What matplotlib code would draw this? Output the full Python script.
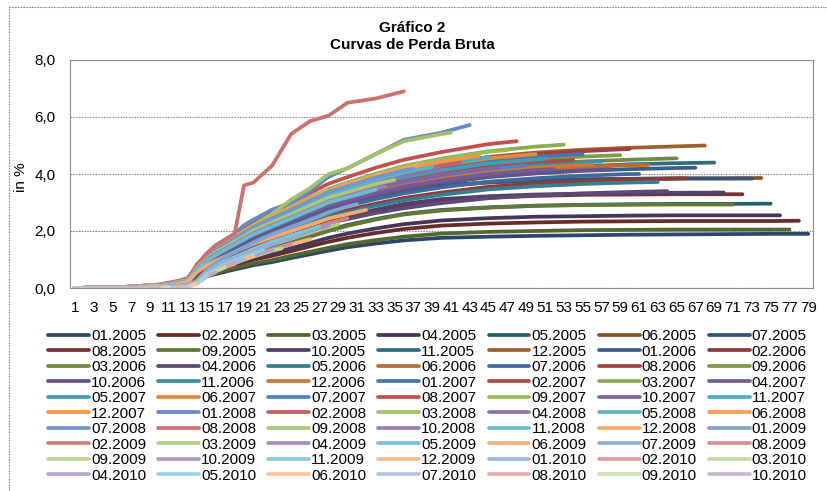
import numpy as np
import matplotlib
matplotlib.use('Agg')
import matplotlib.pyplot as plt
from matplotlib.lines import Line2D
from matplotlib.colors import to_rgb

plt.rcParams['font.family'] = ['Liberation Sans', 'DejaVu Sans']

# vintages 01.2005 .. 10.2010, observed up to 07.2011
years = [2005, 2006, 2007, 2008, 2009, 2010]
vintages = [f'{m:02d}.{y}' for y in years for m in range(1, 13)][:70]
last_obs = (2011, 7)

# months since origination at which each curve was sampled (plus its last month)
grid_months = [1, 6, 10, 12, 13, 14, 15, 16, 17, 18, 19, 20, 22, 24, 26, 28, 30,
               33, 36, 40, 45, 50, 55, 60, 65, 70, 75]

# cumulative gross loss in %, one list per vintage
loss_2005 = [
    [0, 0.01, 0.03, 0.06, 0.10, 0.29, 0.40, 0.49, 0.57, 0.65, 0.72, 0.80, 0.91, 1.05, 1.18, 1.31, 1.43, 1.56, 1.67, 1.76, 1.80, 1.83, 1.85, 1.87, 1.88, 1.89, 1.90, 1.90],
    [0, 0.01, 0.04, 0.08, 0.12, 0.35, 0.49, 0.61, 0.71, 0.80, 0.89, 0.99, 1.13, 1.29, 1.46, 1.62, 1.76, 1.93, 2.07, 2.19, 2.26, 2.30, 2.33, 2.34, 2.35, 2.35, 2.35, 2.36],
    [0, 0.01, 0.03, 0.07, 0.11, 0.31, 0.43, 0.53, 0.62, 0.70, 0.78, 0.86, 0.98, 1.13, 1.27, 1.41, 1.54, 1.68, 1.80, 1.91, 1.97, 2.00, 2.03, 2.04, 2.05, 2.05, 2.05, 2.05],
    [0, 0.01, 0.04, 0.09, 0.13, 0.38, 0.54, 0.66, 0.77, 0.87, 0.97, 1.07, 1.22, 1.40, 1.58, 1.76, 1.91, 2.09, 2.24, 2.37, 2.45, 2.50, 2.52, 2.54, 2.55, 2.55, 2.55, 2.55],
    [0, 0.01, 0.05, 0.10, 0.15, 0.44, 0.62, 0.77, 0.89, 1.00, 1.12, 1.24, 1.42, 1.62, 1.83, 2.04, 2.21, 2.42, 2.60, 2.74, 2.83, 2.89, 2.92, 2.94, 2.95, 2.95, 2.96],
    [0, 0.02, 0.06, 0.12, 0.18, 0.58, 0.81, 1.00, 1.16, 1.31, 1.46, 1.62, 1.85, 2.12, 2.39, 2.66, 2.89, 3.16, 3.39, 3.58, 3.70, 3.77, 3.81, 3.83, 3.85, 3.85, 3.86],
    [0, 0.02, 0.06, 0.12, 0.18, 0.60, 0.85, 1.05, 1.20, 1.36, 1.50, 1.66, 1.90, 2.15, 2.42, 2.68, 2.90, 3.18, 3.40, 3.60, 3.71, 3.78, 3.81, 3.83, 3.84, 3.84, 3.84],
    [0, 0.01, 0.05, 0.10, 0.15, 0.50, 0.69, 0.86, 0.99, 1.12, 1.25, 1.39, 1.58, 1.82, 2.05, 2.28, 2.48, 2.71, 2.90, 3.07, 3.17, 3.23, 3.27, 3.28, 3.29, 3.29, 3.29],
    [0, 0.01, 0.04, 0.09, 0.14, 0.42, 0.60, 0.75, 0.87, 0.98, 1.10, 1.22, 1.40, 1.60, 1.80, 2.00, 2.18, 2.40, 2.58, 2.72, 2.82, 2.88, 2.91, 2.92, 2.93, 2.93, 2.93],
    [0, 0.01, 0.05, 0.10, 0.15, 0.50, 0.70, 0.87, 1.00, 1.14, 1.27, 1.41, 1.61, 1.84, 2.08, 2.31, 2.51, 2.75, 2.95, 3.12, 3.22, 3.28, 3.31, 3.33, 3.34, 3.35],
    [0, 0.02, 0.07, 0.14, 0.20, 0.67, 0.93, 1.16, 1.34, 1.51, 1.69, 1.87, 2.14, 2.40, 2.67, 2.94, 3.12, 3.38, 3.60, 3.83, 4.05, 4.18, 4.27, 4.34, 4.38, 4.40],
    [0, 0.02, 0.08, 0.15, 0.22, 0.76, 1.06, 1.31, 1.52, 1.72, 1.92, 2.12, 2.42, 2.73, 3.03, 3.33, 3.54, 3.84, 4.09, 4.34, 4.60, 4.75, 4.85, 4.92, 4.97, 5.00],
]
loss_2006 = [
    [0, 0.02, 0.07, 0.14, 0.20, 0.64, 0.90, 1.11, 1.28, 1.46, 1.63, 1.80, 2.05, 2.31, 2.57, 2.82, 3.00, 3.25, 3.47, 3.68, 3.89, 4.02, 4.11, 4.17, 4.21, 4.22],
    [0, 0.02, 0.06, 0.13, 0.19, 0.59, 0.82, 1.01, 1.17, 1.33, 1.48, 1.64, 1.87, 2.11, 2.34, 2.57, 2.73, 2.96, 3.16, 3.35, 3.55, 3.67, 3.74, 3.80, 3.84, 3.85],
    [0, 0.02, 0.07, 0.14, 0.21, 0.69, 0.97, 1.20, 1.39, 1.57, 1.76, 1.94, 2.22, 2.49, 2.77, 3.05, 3.23, 3.51, 3.74, 3.97, 4.20, 4.34, 4.44, 4.50, 4.55],
    [0, 0.01, 0.05, 0.11, 0.16, 0.52, 0.73, 0.90, 1.04, 1.18, 1.31, 1.45, 1.66, 1.87, 2.08, 2.28, 2.42, 2.63, 2.80, 2.98, 3.15, 3.25, 3.32, 3.37, 3.40],
    [0, 0.02, 0.06, 0.12, 0.18, 0.57, 0.80, 0.99, 1.14, 1.29, 1.44, 1.60, 1.82, 2.05, 2.28, 2.51, 2.66, 2.89, 3.08, 3.27, 3.46, 3.57, 3.65, 3.70, 3.72],
    [0, 0.02, 0.07, 0.14, 0.20, 0.66, 0.93, 1.15, 1.33, 1.50, 1.68, 1.86, 2.12, 2.39, 2.65, 2.92, 3.09, 3.36, 3.58, 3.80, 4.02, 4.15, 4.24, 4.31, 4.32],
    [0, 0.02, 0.07, 0.13, 0.19, 0.62, 0.86, 1.07, 1.23, 1.39, 1.56, 1.72, 1.97, 2.21, 2.46, 2.71, 2.87, 3.12, 3.32, 3.53, 3.73, 3.85, 3.94, 4.00, 4.00],
    [0, 0.02, 0.08, 0.15, 0.22, 0.75, 1.05, 1.30, 1.50, 1.70, 1.90, 2.10, 2.40, 2.70, 3.00, 3.30, 3.50, 3.80, 4.05, 4.30, 4.55, 4.70, 4.80, 4.88],
    [0, 0.02, 0.07, 0.15, 0.22, 0.72, 1.01, 1.25, 1.44, 1.63, 1.82, 2.02, 2.30, 2.59, 2.88, 3.17, 3.36, 3.65, 3.89, 4.13, 4.37, 4.51, 4.61, 4.66],
    [0, 0.02, 0.06, 0.13, 0.19, 0.65, 0.90, 1.12, 1.29, 1.46, 1.63, 1.81, 2.06, 2.32, 2.58, 2.84, 3.01, 3.27, 3.48, 3.70, 3.91, 4.04, 4.13, 4.16],
    [0, 0.02, 0.07, 0.14, 0.21, 0.69, 0.97, 1.20, 1.38, 1.56, 1.75, 1.93, 2.21, 2.48, 2.76, 3.04, 3.22, 3.50, 3.73, 3.96, 4.19, 4.32, 4.42, 4.44],
    [0, 0.02, 0.07, 0.14, 0.21, 0.68, 0.95, 1.17, 1.35, 1.53, 1.71, 1.89, 2.16, 2.43, 2.70, 2.97, 3.15, 3.42, 3.65, 3.87, 4.10, 4.23, 4.32, 4.33],
]
loss_2007 = [
    [0, 0.02, 0.08, 0.16, 0.24, 0.74, 1.03, 1.27, 1.47, 1.67, 1.86, 2.06, 2.35, 2.65, 2.94, 3.23, 3.43, 3.72, 3.97, 4.21, 4.46, 4.61, 4.70],
    [0, 0.02, 0.07, 0.15, 0.22, 0.71, 0.99, 1.22, 1.41, 1.60, 1.79, 1.97, 2.26, 2.54, 2.82, 3.10, 3.29, 3.57, 3.81, 4.04, 4.28, 4.42, 4.49],
    [0, 0.02, 0.08, 0.16, 0.24, 0.79, 1.11, 1.37, 1.58, 1.80, 2.01, 2.22, 2.53, 2.85, 3.17, 3.48, 3.70, 4.01, 4.28, 4.54, 4.80, 4.96, 5.03],
    [0, 0.02, 0.07, 0.14, 0.20, 0.66, 0.92, 1.14, 1.32, 1.50, 1.67, 1.85, 2.11, 2.38, 2.64, 2.90, 3.08, 3.34, 3.56, 3.78, 4.00, 4.14, 4.17],
    [0, 0.02, 0.08, 0.15, 0.23, 0.72, 1.01, 1.25, 1.44, 1.63, 1.82, 2.02, 2.30, 2.59, 2.88, 3.17, 3.36, 3.65, 3.89, 4.13, 4.37, 4.51, 4.53],
    [0, 0.02, 0.08, 0.16, 0.24, 0.75, 1.05, 1.30, 1.50, 1.70, 1.90, 2.10, 2.40, 2.70, 3.00, 3.30, 3.50, 3.80, 4.05, 4.30, 4.55, 4.70],
    [0, 0.02, 0.07, 0.15, 0.22, 0.69, 0.97, 1.20, 1.38, 1.56, 1.75, 1.93, 2.21, 2.48, 2.76, 3.04, 3.22, 3.50, 3.73, 3.96, 4.19, 4.30],
    [0, 0.03, 0.09, 0.18, 0.26, 0.83, 1.17, 1.44, 1.67, 1.89, 2.11, 2.33, 2.66, 3.00, 3.33, 3.66, 3.89, 4.22, 4.50, 4.77, 5.05, 5.15],
    [0, 0.02, 0.08, 0.17, 0.25, 0.79, 1.10, 1.37, 1.58, 1.79, 2.00, 2.21, 2.52, 2.84, 3.15, 3.47, 3.68, 3.99, 4.25, 4.52, 4.78, 4.84],
    [0, 0.02, 0.07, 0.15, 0.22, 0.69, 0.97, 1.20, 1.38, 1.56, 1.75, 1.93, 2.21, 2.48, 2.76, 3.04, 3.22, 3.50, 3.73, 3.96, 4.19, 4.21],
    [0, 0.02, 0.08, 0.16, 0.24, 0.76, 1.06, 1.31, 1.52, 1.72, 1.92, 2.12, 2.42, 2.73, 3.03, 3.33, 3.54, 3.84, 4.09, 4.34, 4.60],
    [0, 0.03, 0.09, 0.17, 0.25, 0.77, 1.08, 1.34, 1.55, 1.75, 1.96, 2.16, 2.47, 2.78, 3.09, 3.40, 3.61, 3.91, 4.17, 4.43, 4.64],
]
loss_2008 = [
    [0, 0.03, 0.12, 0.24, 0.32, 0.80, 1.20, 1.50, 1.70, 1.90, 2.20, 2.40, 2.75, 3.00, 3.40, 3.90, 4.20, 4.70, 5.20, 5.45, 5.72],
    [0, 0.03, 0.10, 0.20, 0.28, 0.75, 1.05, 1.30, 1.50, 1.70, 1.90, 2.10, 2.40, 2.70, 3.00, 3.30, 3.50, 3.80, 4.05, 4.30, 4.40],
    [0, 0.03, 0.11, 0.22, 0.30, 0.70, 1.10, 1.40, 1.60, 1.80, 2.00, 2.20, 2.60, 3.10, 3.50, 4.00, 4.20, 4.70, 5.15, 5.40, 5.45],
    [0, 0.03, 0.10, 0.20, 0.28, 0.74, 1.03, 1.27, 1.47, 1.67, 1.86, 2.06, 2.35, 2.65, 2.94, 3.23, 3.43, 3.72, 3.97, 4.21],
    [0, 0.03, 0.10, 0.21, 0.29, 0.75, 1.05, 1.30, 1.50, 1.70, 1.90, 2.10, 2.40, 2.70, 3.00, 3.30, 3.50, 3.80, 4.05, 4.25],
    [0, 0.03, 0.11, 0.22, 0.30, 0.78, 1.09, 1.35, 1.56, 1.77, 1.98, 2.18, 2.50, 2.81, 3.12, 3.43, 3.64, 3.95, 4.21, 4.34],
    [0, 0.03, 0.11, 0.22, 0.30, 0.77, 1.07, 1.33, 1.53, 1.73, 1.94, 2.14, 2.45, 2.75, 3.06, 3.37, 3.57, 3.88, 4.13, 4.18],
    [0, 0.03, 0.12, 0.25, 0.35, 0.80, 1.20, 1.50, 1.70, 1.90, 3.60, 3.70, 4.30, 5.40, 5.85, 6.05, 6.50, 6.65, 6.90],
    [0, 0.03, 0.10, 0.20, 0.28, 0.72, 1.01, 1.25, 1.44, 1.63, 1.82, 2.02, 2.30, 2.59, 2.88, 3.17, 3.36, 3.65, 3.79],
    [0, 0.02, 0.09, 0.18, 0.26, 0.69, 0.97, 1.20, 1.38, 1.56, 1.75, 1.93, 2.21, 2.48, 2.76, 3.04, 3.22, 3.50, 3.56],
    [0, 0.02, 0.08, 0.17, 0.25, 0.66, 0.93, 1.15, 1.34, 1.52, 1.70, 1.88, 2.16, 2.44, 2.72, 3.00, 3.18, 3.45],
    [0, 0.02, 0.07, 0.14, 0.20, 0.56, 0.78, 0.96, 1.11, 1.26, 1.41, 1.55, 1.78, 2.00, 2.22, 2.44, 2.59, 2.74],
]
loss_2009 = [
    [0, 0.01, 0.04, 0.08, 0.12, 0.25, 0.63, 0.88, 1.09, 1.26, 1.43, 1.60, 1.89, 2.14, 2.39, 2.65, 2.86, 2.94],
    [0, 0.01, 0.03, 0.06, 0.10, 0.22, 0.54, 0.76, 0.94, 1.08, 1.22, 1.37, 1.62, 1.84, 2.05, 2.27, 2.45],
    [0, 0, 0.03, 0.05, 0.08, 0.20, 0.51, 0.71, 0.88, 1.02, 1.16, 1.29, 1.53, 1.73, 1.94, 2.14, 2.23],
    [0, 0, 0.03, 0.05, 0.08, 0.21, 0.53, 0.74, 0.91, 1.05, 1.19, 1.33, 1.58, 1.79, 2.00, 2.20],
    [0, 0, 0.03, 0.05, 0.09, 0.22, 0.54, 0.76, 0.94, 1.08, 1.22, 1.37, 1.62, 1.84, 2.05, 2.16],
    [0, 0, 0.02, 0.04, 0.07, 0.18, 0.45, 0.63, 0.78, 0.90, 1.02, 1.14, 1.35, 1.53, 1.71],
    [0, 0, 0.02, 0.04, 0.07, 0.20, 0.51, 0.71, 0.88, 1.02, 1.16, 1.29, 1.53, 1.73, 1.84],
    [0, 0, 0.02, 0.04, 0.06, 0.18, 0.45, 0.63, 0.78, 0.90, 1.02, 1.14, 1.35, 1.53],
    [0, 0, 0.02, 0.03, 0.05, 0.17, 0.44, 0.61, 0.75, 0.87, 0.99, 1.10, 1.31, 1.39],
    [0, 0, 0.02, 0.03, 0.05, 0.18, 0.45, 0.63, 0.78, 0.90, 1.02, 1.14, 1.35],
    [0, 0, 0.02, 0.03, 0.05, 0.19, 0.48, 0.67, 0.83, 0.96, 1.09, 1.22, 1.34],
    [0, 0, 0.02, 0.03, 0.05, 0.18, 0.45, 0.63, 0.78, 0.90, 1.02, 1.14],
]
loss_2010 = [
    [0, 0, 0.01, 0.03, 0.05, 0.18, 0.45, 0.63, 0.78, 0.90, 1.02],
    [0, 0, 0.01, 0.02, 0.04, 0.17, 0.42, 0.59, 0.73, 0.84],
    [0, 0, 0.01, 0.02, 0.04, 0.17, 0.42, 0.59, 0.73],
    [0, 0, 0.01, 0.02, 0.03, 0.16, 0.39, 0.55],
    [0, 0, 0.01, 0.02, 0.03, 0.16, 0.39],
    [0, 0, 0.01, 0.02, 0.03, 0.15],
    [0, 0, 0.01, 0.02, 0.03],
    [0, 0, 0.01, 0.02],
    [0, 0, 0.01, 0.01],
    [0, 0, 0.01],
]
curves = loss_2005 + loss_2006 + loss_2007 + loss_2008 + loss_2009 + loss_2010

y_ticks = [0, 2, 4, 6, 8]
x_ticks = list(range(1, 80, 2))

# Office 2007 accent colours, shaded dark -> tinted light as the series count grows
accents = ['#4F81BD', '#C0504D', '#9BBB59', '#8064A2', '#4BACC6', '#F79646']


def series_color(i):
    base = np.array(to_rgb(accents[i % 6]))
    t = -0.45 + (i // 6) / 11
    if t < 0:
        return tuple(base * (1 + t))
    return tuple(base + (1 - base) * t)


def months_on_book(label):
    m, y = int(label[:2]), int(label[3:])
    return (last_obs[0] - y) * 12 + (last_obs[1] - m) + 1


W, H = 827, 491
fig = plt.figure(figsize=(W / 100, H / 100), dpi=100)
ax = fig.add_axes([70 / W, 1 - 288 / H, 743 / W, 228 / H])

for i, (label, vals) in enumerate(zip(vintages, curves)):
    n = months_on_book(label)
    xs = [m for m in grid_months if m < n] + [n]
    assert len(xs) == len(vals), (label, len(xs), len(vals))
    ax.plot(xs, vals, color=series_color(i), lw=2.7, label=label,
            solid_capstyle='round', solid_joinstyle='round')

grid_col = '#8c8c8c'
dash = (0, (1.5, 1.0))
ax.set_xlim(0.5, 79.5)
ax.set_ylim(0, 8)
ax.set_yticks(y_ticks)
ax.set_yticklabels([f'{v:.1f}'.replace('.', ',') for v in y_ticks])
ax.set_xticks(x_ticks)
ax.set_xticklabels([str(v) for v in x_ticks])
ax.tick_params(axis='y', length=0, pad=10.5, labelsize=11)
ax.tick_params(axis='x', length=0, pad=9.5, labelsize=11)
ax.yaxis.grid(True, color=grid_col, linestyle=dash, linewidth=0.8)
ax.set_axisbelow(True)
for sp in ax.spines.values():
    sp.set_color(grid_col)
    sp.set_linestyle(dash)
    sp.set_linewidth(0.8)

fig.text(412 / W, 1 - 28 / H, 'Gráfico 2', ha='center', va='center',
         fontsize=11, fontweight='bold')
fig.text(412 / W, 1 - 45 / H, 'Curvas de Perda Bruta', ha='center', va='center',
         fontsize=11, fontweight='bold')
fig.text(21 / W, 1 - 177 / H, 'in %', rotation=90, ha='center', va='center',
         fontsize=11)

# chart area frame (top and left edges)
fig.add_artist(Line2D([9 / W, 1], [1 - 7 / H, 1 - 7 / H], transform=fig.transFigure,
                      color=grid_col, linestyle=dash, linewidth=0.8))
fig.add_artist(Line2D([9 / W, 9 / W], [0, 1 - 7 / H], transform=fig.transFigure,
                      color=grid_col, linestyle=dash, linewidth=0.8))

# legend filled row by row, 7 columns
handles, labels = ax.get_legend_handles_labels()
ncol, nrow = 7, 10
order = [r * ncol + c for c in range(ncol) for r in range(nrow)]
fig.legend([handles[k] for k in order], [labels[k] for k in order],
           ncol=ncol, loc='upper left', bbox_to_anchor=(48 / W, 1 - 329 / H),
           frameon=False, fontsize=11, handlelength=2.68, handletextpad=0.13,
           columnspacing=0.79, labelspacing=0.1, borderpad=0, borderaxespad=0)

fig.savefig('out.png', dpi=100)
